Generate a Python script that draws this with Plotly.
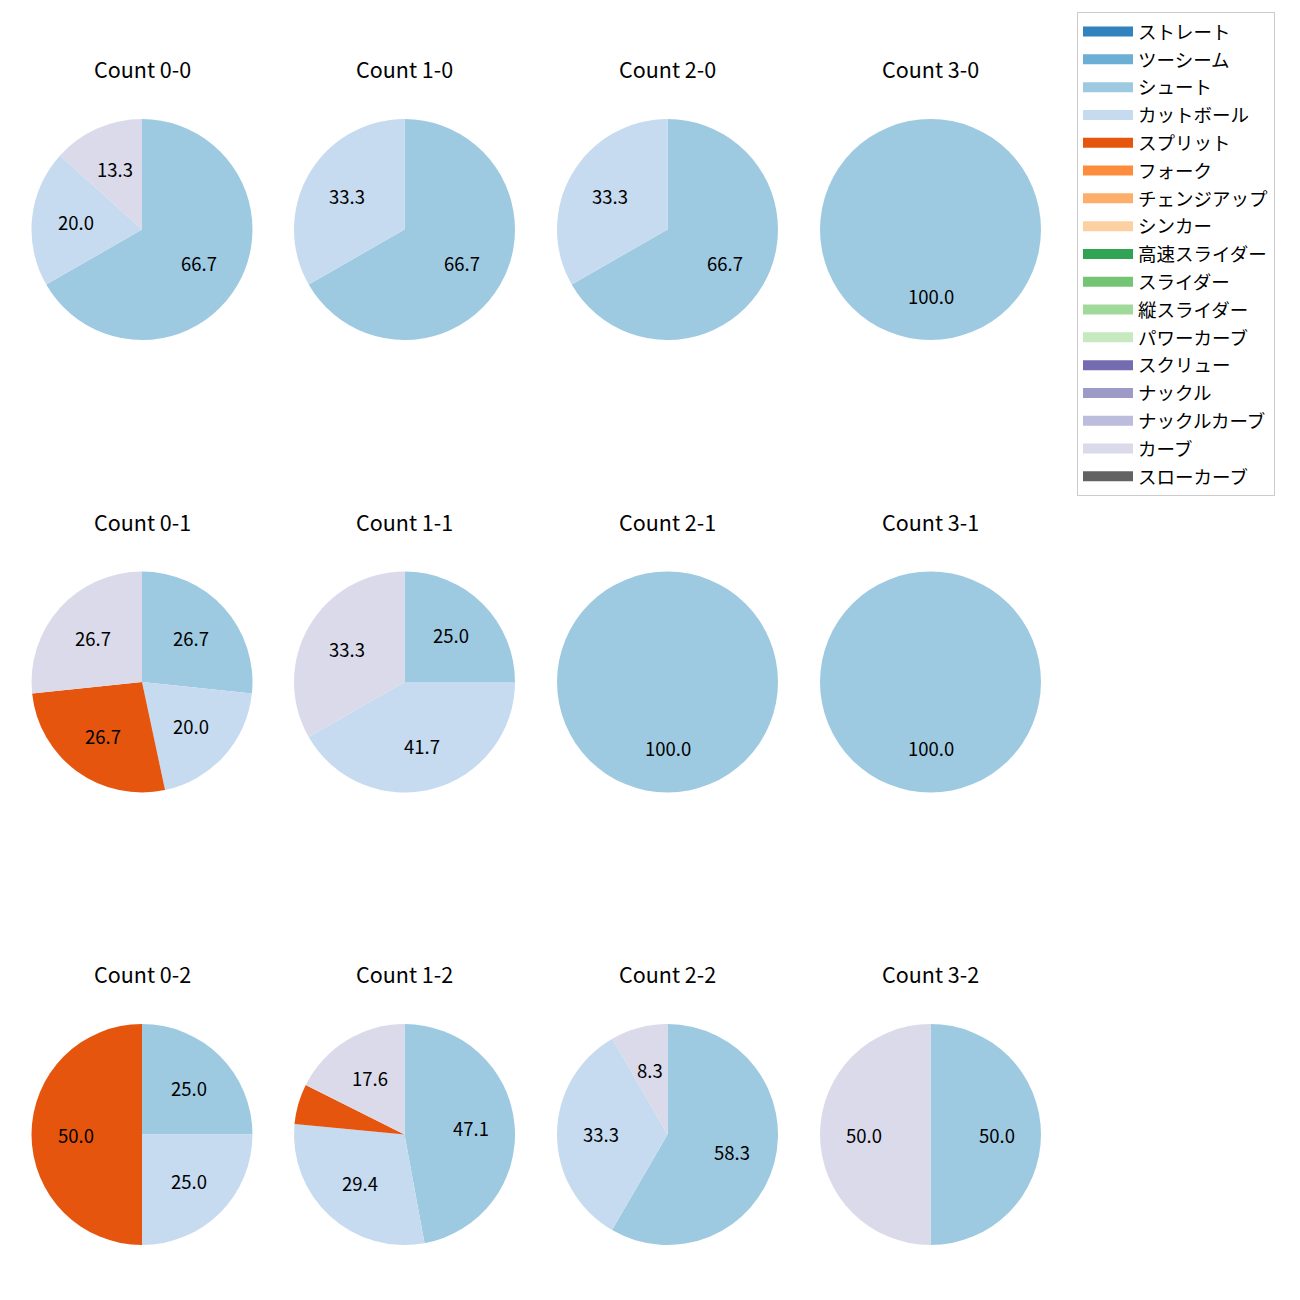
import math
import plotly.graph_objects as go

pitch_types = ["ストレート", "ツーシーム", "シュート", "カットボール", "スプリット", "フォーク",
               "チェンジアップ", "シンカー", "高速スライダー", "スライダー", "縦スライダー",
               "パワーカーブ", "スクリュー", "ナックル", "ナックルカーブ", "カーブ", "スローカーブ"]
colors = ["#3182bd", "#6baed6", "#9ecae1", "#c6dbef", "#e6550d", "#fd8d3c", "#fdae6b",
          "#fdd0a2", "#31a354", "#74c476", "#a1d99b", "#c7e9c0", "#756bb1", "#9e9ac8",
          "#bcbddc", "#dadaeb", "#636363"]
color_map = dict(zip(pitch_types, colors))

balls = [0, 1, 2, 3]
strikes = [0, 1, 2]

c00_labels = ["シュート", "カットボール", "カーブ"];            c00_values = [66.7, 20.0, 13.3]
c10_labels = ["シュート", "カットボール"];                       c10_values = [66.7, 33.3]
c20_labels = ["シュート", "カットボール"];                       c20_values = [66.7, 33.3]
c30_labels = ["シュート"];                                        c30_values = [100.0]
c01_labels = ["シュート", "カットボール", "スプリット", "カーブ"]; c01_values = [26.7, 20.0, 26.7, 26.7]
c11_labels = ["シュート", "カットボール", "カーブ"];              c11_values = [25.0, 41.7, 33.3]
c21_labels = ["シュート"];                                        c21_values = [100.0]
c31_labels = ["シュート"];                                        c31_values = [100.0]
c02_labels = ["シュート", "カットボール", "スプリット"];          c02_values = [25.0, 25.0, 50.0]
c12_labels = ["シュート", "カットボール", "スプリット", "カーブ"]; c12_values = [47.1, 29.4, 5.9, 17.6]
c22_labels = ["シュート", "カットボール", "カーブ"];              c22_values = [58.3, 33.3, 8.3]
c32_labels = ["シュート", "カーブ"];                              c32_values = [50.0, 50.0]

data = {
    (0, 0): (c00_labels, c00_values), (1, 0): (c10_labels, c10_values),
    (2, 0): (c20_labels, c20_values), (3, 0): (c30_labels, c30_values),
    (0, 1): (c01_labels, c01_values), (1, 1): (c11_labels, c11_values),
    (2, 1): (c21_labels, c21_values), (3, 1): (c31_labels, c31_values),
    (0, 2): (c02_labels, c02_values), (1, 2): (c12_labels, c12_values),
    (2, 2): (c22_labels, c22_values), (3, 2): (c32_labels, c32_values),
}

W = H = 1300
OFF = 8  # page body margin compensation
col_cx = [142 - OFF, 404.5 - OFF, 667.5 - OFF, 930.5 - OFF]
row_cy = [229.5 - OFF, 682 - OFF, 1134.5 - OFF]
R = 110.5
FONT = "Noto Sans CJK JP, Noto Sans, sans-serif"

fig = go.Figure()
annotations = []
for (b, s), (labels, values) in data.items():
    cx, cy = col_cx[b], row_cy[s]
    fig.add_trace(go.Pie(
        labels=labels, values=values, sort=False, direction="clockwise", rotation=0,
        marker=dict(colors=[color_map[l] for l in labels], line=dict(width=0)),
        textinfo="none", showlegend=False, hole=0,
        domain=dict(x=[(cx - R) / W, (cx + R) / W], y=[1 - (cy + R) / H, 1 - (cy - R) / H]),
    ))
    annotations.append(dict(text=f"Count {b}-{s}", x=cx / W, y=1 - (cy - 161) / H,
                            xref="paper", yref="paper", showarrow=False,
                            xanchor="center", yanchor="middle",
                            font=dict(size=21.5, color="#000", family=FONT)))
    total = sum(values)
    cum = 0
    for v in values:
        mid = math.radians(90 - 360 * (cum + v / 2) / total)
        cum += v
        if v < 6:
            continue
        px = cx + 0.6 * R * math.cos(mid)
        py = cy - 0.6 * R * math.sin(mid)
        annotations.append(dict(text=f"{v:.1f}", x=px / W, y=1 - py / H,
                                xref="paper", yref="paper", showarrow=False,
                                xanchor="center", yanchor="middle",
                                font=dict(size=18.5, color="#000", family=FONT)))

for name, col in zip(pitch_types, colors):
    fig.add_trace(go.Scatter(x=[None], y=[None], mode="lines", name=name,
                             line=dict(color=col, width=14), legendgroup=name))

fig.update_layout(
    width=W, height=H, margin=dict(l=0, r=0, t=0, b=0),
    paper_bgcolor="white", plot_bgcolor="white",
    xaxis=dict(visible=False), yaxis=dict(visible=False),
    annotations=annotations,
    font=dict(family=FONT, color="#000"),
    legend=dict(x=(1077 - OFF) / W, y=1 - (12 - OFF) / H, xanchor="left", yanchor="top",
                bordercolor="#cccccc", borderwidth=1, bgcolor="white",
                font=dict(size=18.5, family=FONT), tracegroupgap=0.75, itemwidth=50),
)
fig.write_html("out.html")
